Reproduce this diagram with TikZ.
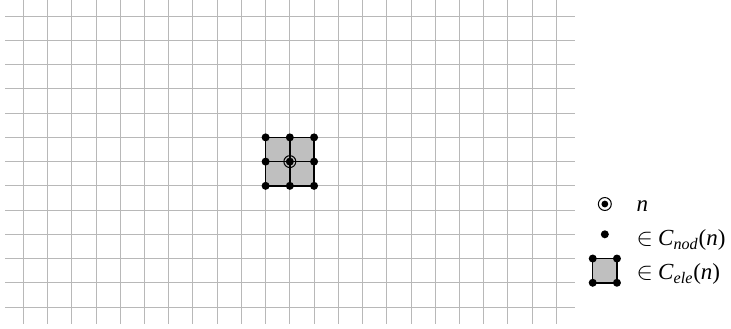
\documentclass[tikz,border=0pt]{standalone}
\usepackage{fontspec}
\setmainfont{Liberation Serif}
\usetikzlibrary{positioning, backgrounds}

\begin{document}
\begin{tikzpicture}[
    x=0.5cm, y=0.5cm,
    gridline/.style={draw=black!28, line width=0.55pt},
    dot/.style={circle, fill=black, inner sep=0pt, minimum size=4.7pt},
    smalldot/.style={circle, fill=black, inner sep=0pt, minimum size=4pt},
    ring/.style={circle, draw=black, line width=0.6pt, inner sep=0pt, minimum size=#1},
    edge/.style={draw=black, line width=0.9pt},
    cell/.style={fill=black!25},
    lab/.style={anchor=base west, inner sep=0pt, font=\fontsize{13.5}{16}\selectfont},
]
\useasboundingbox (-0.962,-0.867) rectangle (29.207,12.670);

% ========== ELEMENT PATCH ==========
% nodes of the 2x2 patch round n
\foreach \i in {0,1,2} {
    \foreach \j in {0,1,2} {
        \node[dot] (p\i\j) at (10+\i, 5+\j) {};
    }
}
\node[ring=7pt] (n) at (p11) {};

\draw[edge] (p00.center) -- (p20.center) -- (p22.center) -- (p02.center) -- cycle;
\draw[edge] (p01.center) -- (p21.center);
\draw[edge] (p10.center) -- (p12.center);

% ========== GRID ==========
\begin{scope}[on background layer]
    \foreach \y in {0,...,12}
        \draw[gridline] (-0.75,\y) -- (22.75,\y);
    \foreach \x in {0,...,22}
        \draw[gridline] (\x,-0.7) -- (\x,12.8);
    \fill[cell] (p00.center) rectangle (p22.center);
\end{scope}

% ========== LEGEND ==========
\node[smalldot] (ln) at (24,4.25) {};
\node[ring=7.6pt] (lnr) at (ln) {};
\node[dot] (ld) at (24,3) {};

\node[dot] (q00) at (23.5,1) {};
\node[dot] (q10) at (24.5,1) {};
\node[dot] (q11) at (24.5,2) {};
\node[dot] (q01) at (23.5,2) {};
\begin{scope}[on background layer]
    \fill[cell] (q00.center) rectangle (q11.center);
\end{scope}
\draw[edge] (q00.center) -- (q10.center) -- (q11.center) -- (q01.center) -- cycle;

\node[lab] (tn) at (25.3,3.93) {\textit{n}};
\node[lab] (tnod) at (25.3,2.52) {$\in$\hspace{0.22em}\textit{C}\textsubscript{\textit{nod}}(\textit{n})};
\node[lab] (tele) at (25.3,1.14) {$\in$\hspace{0.22em}\textit{C}\textsubscript{\textit{ele}}(\textit{n})};

\end{tikzpicture}
\end{document}
